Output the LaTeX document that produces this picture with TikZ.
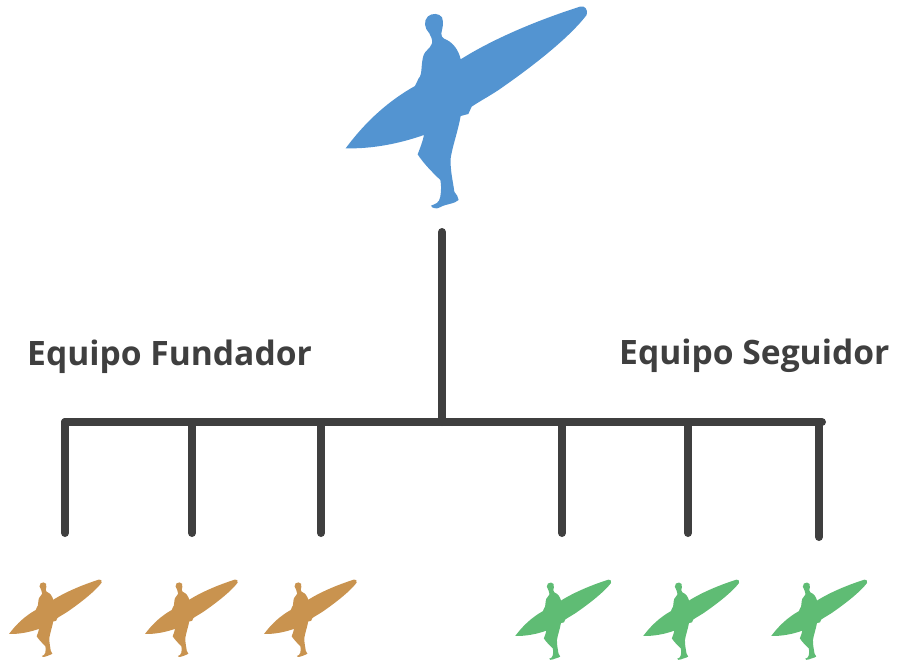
\documentclass[tikz,border=0pt]{standalone}
\usepackage{fontspec}
\setmainfont{Open Sans}
\definecolor{bluesurf}{HTML}{5394D1}
\definecolor{brownsurf}{HTML}{C9934F}
\definecolor{greensurf}{HTML}{5FBC74}
\definecolor{linegray}{HTML}{3F3F3F}
\tikzset{
  surfer/.pic={
    \fill[pic actions] (47,445) .. controls (110,360) and (180,300) .. (255,258)
    -- (266,235) .. controls (278,225) and (272,190) .. (281,165)
    .. controls (286,150) and (300,148) .. (306,130)
    .. controls (308,118) and (303,110) .. (298,100)
    .. controls (283,85) and (280,62) .. (294,49)
    .. controls (305,39) and (328,39) .. (336,52)
    .. controls (343,68) and (336,88) .. (334,100)
    .. controls (334,108) and (336,112) .. (342,116)
    .. controls (368,125) and (386,150) .. (392,178)
    .. controls (500,110) and (640,55) .. (750,20)
    .. controls (765,15) and (775,30) .. (770,45)
    .. controls (720,110) and (620,190) .. (520,260)
    .. controls (490,282) and (455,300) .. (425,320)
    -- (415,342) -- (392,348)
    .. controls (385,390) and (367,440) .. (362,475)
    .. controls (360,510) and (370,550) .. (373,575)
    .. controls (379,585) and (386,590) .. (386,600)
    .. controls (375,612) and (345,612) .. (330,622)
    .. controls (320,628) and (305,625) .. (303,617)
    .. controls (315,612) and (328,610) .. (331,590)
    .. controls (334,570) and (334,555) .. (331,540)
    .. controls (310,520) and (280,490) .. (263,463)
    .. controls (270,445) and (278,425) .. (282,405)
    .. controls (210,430) and (130,447) .. (47,445) -- cycle;
  },
  conn/.style={draw=linegray,line width=8pt,line cap=round},
  lbl/.style={text=linegray,font=\fontsize{33.6}{40}\selectfont\bfseries,anchor=base west,inner sep=0pt}
}
\begin{document}
\begin{tikzpicture}[x=1pt,y=-1pt]
\useasboundingbox (0,0) rectangle (899,659);
\pic[fill=bluesurf,scale=0.3333] (top) at (330,0) {surfer};
\foreach \n/\x in {b1/3,b2/139,b3/258}{\pic[fill=brownsurf,scale=0.128] (\n) at (\x,577) {surfer};}
\foreach \n/\x in {g1/509,g2/637,g3/765}{\pic[fill=greensurf,scale=0.1325] (\n) at (\x,577) {surfer};}
\coordinate (rootS) at (442,232);
\coordinate (rootE) at (442,422);
\coordinate (busL) at (65,422);
\coordinate (busR) at (822,422);
\draw[conn] (rootS) -- (rootE);
\draw[conn] (busL) -- (busR);
\foreach \n/\x/\y in {a/65/533,b/192/533,c/321/533,d/562/533,e/688/533,f/819/537}{
  \coordinate (\n T) at (\x,422);
  \coordinate (\n B) at (\x,\y);
  \draw[conn] (\n T) -- (\n B);
}
\node[lbl] (fund) at (27,365) {Equipo Fundador};
\node[lbl] (seg) at (619,364) {Equipo Seguidor};
\end{tikzpicture}
\end{document}
